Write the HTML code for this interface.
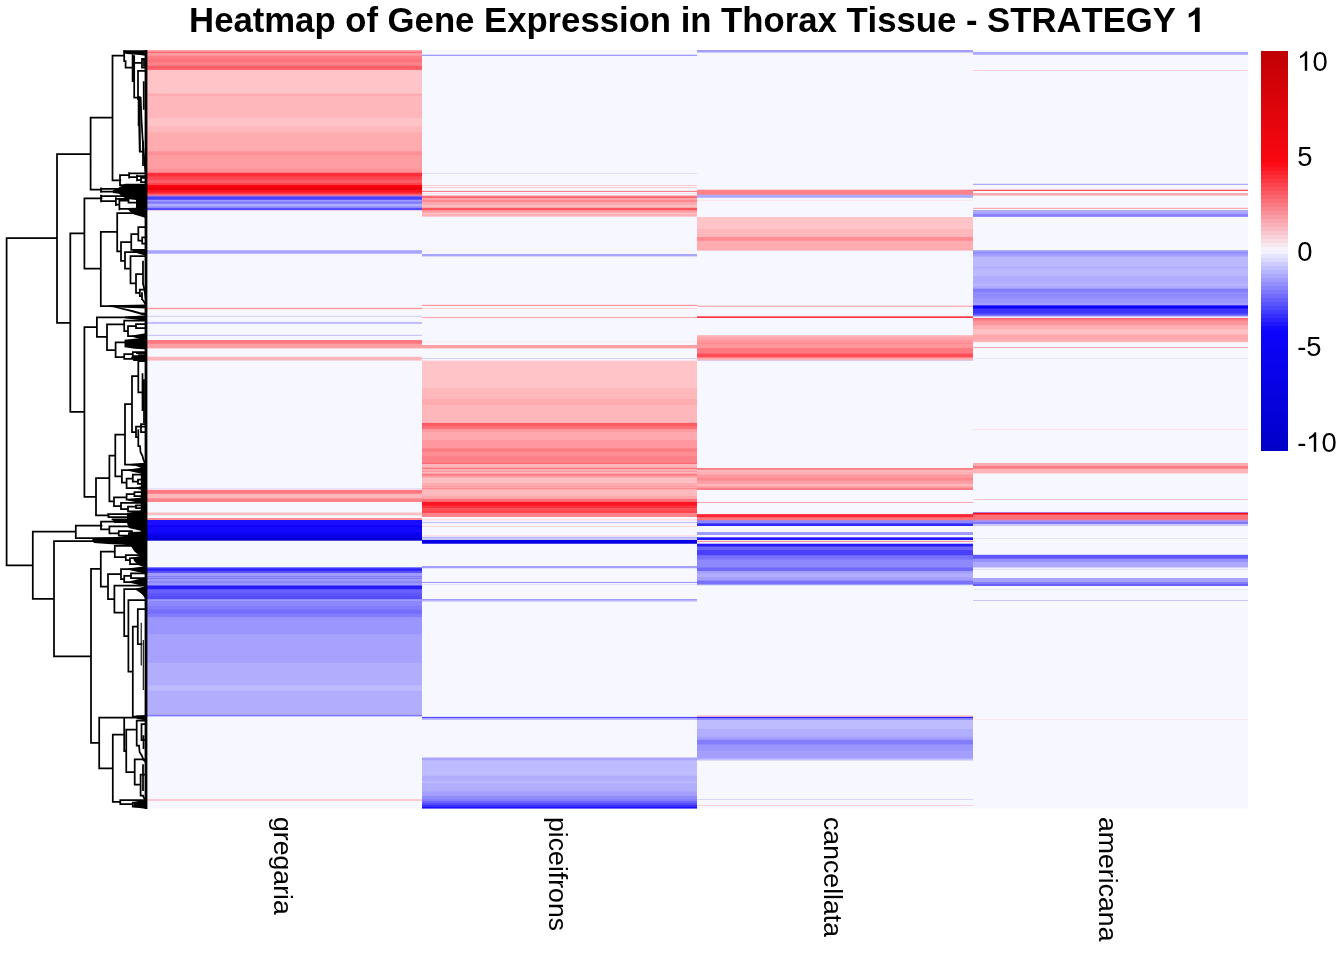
<!DOCTYPE html>
<html><head><meta charset="utf-8"><title>Heatmap</title>
<style>
html,body{margin:0;padding:0;background:#fff;}
body{width:1344px;height:960px;position:relative;overflow:hidden;font-family:"Liberation Sans",sans-serif;color:#000;}
.col{position:absolute;top:50px;height:759px;}
#title{position:absolute;left:189.1px;width:1100px;font-kerning:none;transform-origin:0 32px;transform:scaleY(1.03);top:0px;text-align:left;font-weight:bold;font-size:34.7px;line-height:40px;white-space:nowrap;letter-spacing:0px;}
.lg{position:absolute;left:1297.2px;font-size:27.4px;line-height:30px;white-space:nowrap;}
.xl{position:absolute;font-size:26.67px;line-height:30px;white-space:nowrap;transform-origin:0 0;transform:rotate(90deg);}
#legend{position:absolute;left:1261px;top:51px;width:27px;height:399.5px;}
svg{position:absolute;left:0;top:0;}
#title,.lg,.xl{filter:grayscale(1);font-kerning:none;}
</style></head><body>
<div id="title">Heatmap of Gene Expression in Thorax Tissue - STRATEGY <svg style="position:static;display:inline-block;vertical-align:baseline" preserveAspectRatio="none" width="19.30" height="24.00" viewBox="0 -1480 1139 1480"><path d="M806 0H525V-1059Q371 -915 162 -846V-1101Q272 -1137 401 -1237.5T578 -1472H806Z" fill="#000"/></svg></div>
<div class="col" style="left:147px;width:275px;background:linear-gradient(to bottom,#fe9fa5 0px,#fe9fa5 1px,#fe8f96 1px,#fe8f96 2px,#fd6972 2px,#fd6972 3px,#fe9ba0 3px,#fe9ba0 5px,#fe9298 5px,#fe9298 6px,#fd7d84 6px,#fd7d84 9px,#fd737b 9px,#fd737b 12px,#fe7e85 12px,#fe7e85 13px,#fe8289 13px,#fe8289 15px,#fe787f 15px,#fe787f 16px,#fd5f68 16px,#fd5f68 19px,#fd6972 19px,#fd6972 20px,#fec4c8 20px,#fec4c8 43px,#febcc0 43px,#febcc0 44px,#fea9ae 44px,#fea9ae 45px,#feacb1 45px,#feacb1 46px,#feb6ba 46px,#feb6ba 47px,#feb8bc 47px,#feb8bc 68px,#fec4c8 68px,#fec4c8 76px,#febbbf 76px,#febbbf 77px,#feb8bc 77px,#feb8bc 82px,#feb2b6 82px,#feb2b6 83px,#feacb0 83px,#feacb0 101px,#fe989d 101px,#fe989d 102px,#fe9197 102px,#fe9197 105px,#fe999f 105px,#fe999f 106px,#fe9da2 106px,#fe9da2 118px,#fe9a9f 118px,#fe9a9f 119px,#fe9399 119px,#fe9399 122px,#fe7a81 122px,#fe7a81 123px,#fd2e3a 123px,#fd2e3a 126px,#fd3a46 126px,#fd3a46 127px,#fd4751 127px,#fd4751 130px,#fd5f68 130px,#fd5f68 133px,#fd424c 133px,#fd424c 135px,#fc0210 135px,#fc0210 137px,#f4020e 137px,#f4020e 138px,#ec010b 138px,#ec010b 140px,#fc1623 140px,#fc1623 142px,#fc2733 142px,#fc2733 143px,#fd3843 143px,#fd3843 144px,#fd646d 144px,#fd646d 145px,#d873a2 145px,#d873a2 146px,#7e61ea 146px,#7e61ea 147px,#4940fd 147px,#4940fd 149px,#5e57fd 149px,#5e57fd 150px,#9f9bfe 150px,#9f9bfe 151px,#8e8afe 151px,#8e8afe 152px,#7e78fd 152px,#7e78fd 153px,#8b86fd 153px,#8b86fd 154px,#b2aefe 154px,#b2aefe 155px,#ada9fe 155px,#ada9fe 156px,#9f9bfe 156px,#9f9bfe 157px,#8c87fe 157px,#8c87fe 158px,#544cfd 158px,#544cfd 160px,#e9c8eb 160px,#e9c8eb 161px,#f7f7ff 161px,#f7f7ff 200px,#b9b5fe 200px,#b9b5fe 201px,#a9a4fe 201px,#a9a4fe 203px,#bcb9fe 203px,#bcb9fe 204px,#f7f7ff 204px,#f7f7ff 257px,#f8e4eb 257px,#f8e4eb 258px,#fe969b 258px,#fe969b 259px,#f8e4eb 259px,#f8e4eb 260px,#f7f7ff 260px,#f7f7ff 265px,#efefff 265px,#efefff 266px,#d5d2fe 266px,#d5d2fe 267px,#f7f7ff 267px,#f7f7ff 271px,#f2f1ff 271px,#f2f1ff 272px,#c2bffe 272px,#c2bffe 274px,#f7f7ff 274px,#f7f7ff 284px,#ededff 284px,#ededff 285px,#c7c4fe 285px,#c7c4fe 286px,#f7f7ff 286px,#f7f7ff 290px,#fd7880 290px,#fd7880 293px,#fd8289 293px,#fd8289 294px,#fe9fa5 294px,#fe9fa5 298px,#fad4db 298px,#fad4db 299px,#f7f7ff 299px,#f7f7ff 306px,#f9e4eb 306px,#f9e4eb 307px,#feb8bc 307px,#feb8bc 310px,#fbd1d7 310px,#fbd1d7 311px,#f7f7ff 311px,#f7f7ff 438px,#e3e2ff 438px,#e3e2ff 439px,#f8dee6 439px,#f8dee6 440px,#fd7880 440px,#fd7880 443px,#fd888e 443px,#fd888e 444px,#feb6ba 444px,#feb6ba 448px,#fe979d 448px,#fe979d 449px,#fe8289 449px,#fe8289 452px,#f7f7ff 452px,#f7f7ff 462px,#fadbe1 462px,#fadbe1 463px,#febfc3 463px,#febfc3 465px,#f9e6ed 465px,#f9e6ed 466px,#f7f7ff 466px,#f7f7ff 468px,#fe8c92 468px,#fe8c92 470px,#1a0efc 470px,#1a0efc 475px,#1106f8 475px,#1106f8 476px,#0d02f7 476px,#0d02f7 477px,#1408fb 477px,#1408fb 478px,#1509fc 478px,#1509fc 482px,#1005f8 482px,#1005f8 483px,#0c02f6 483px,#0c02f6 484px,#0b02f3 484px,#0b02f3 485px,#0801e7 485px,#0801e7 488px,#0300d2 488px,#0300d2 490px,#4c4adf 490px,#4c4adf 491px,#f7f7ff 491px,#f7f7ff 517px,#837dfd 517px,#837dfd 518px,#4037fc 518px,#4037fc 519px,#2a20fc 519px,#2a20fc 520px,#362cfc 520px,#362cfc 521px,#5951fd 521px,#5951fd 523px,#9f9bfe 523px,#9f9bfe 526px,#837dfd 526px,#837dfd 527px,#9691fe 527px,#9691fe 528px,#817cfd 528px,#817cfd 529px,#9f9bfe 529px,#9f9bfe 531px,#8f89fe 531px,#8f89fe 533px,#9b96fe 533px,#9b96fe 534px,#9f9bfe 534px,#9f9bfe 535px,#5c54fd 535px,#5c54fd 536px,#251bfc 536px,#251bfc 539px,#5a51fd 539px,#5a51fd 540px,#675ffd 540px,#675ffd 543px,#6058fd 543px,#6058fd 544px,#5e56fd 544px,#5e56fd 545px,#5c54fd 545px,#5c54fd 546px,#544cfd 546px,#544cfd 549px,#908bfe 549px,#908bfe 550px,#9f9bfe 550px,#9f9bfe 551px,#8d87fe 551px,#8d87fe 555px,#8a84fe 555px,#8a84fe 556px,#837dfd 556px,#837dfd 559px,#7c76fd 559px,#7c76fd 560px,#756efd 560px,#756efd 563px,#7670fd 563px,#7670fd 564px,#837dfd 564px,#837dfd 567px,#9691fe 567px,#9691fe 568px,#9a95fe 568px,#9a95fe 569px,#9b96fe 569px,#9b96fe 584px,#a6a2fe 584px,#a6a2fe 612px,#a8a4fe 612px,#a8a4fe 613px,#b2aefe 613px,#b2aefe 635px,#b8b4fe 635px,#b8b4fe 636px,#bebbfe 636px,#bebbfe 640px,#b9b6fe 640px,#b9b6fe 641px,#b2aefe 641px,#b2aefe 664px,#a8a3fe 664px,#a8a3fe 665px,#7e78fd 665px,#7e78fd 666px,#c7c4fe 666px,#c7c4fe 667px,#f7f7ff 667px,#f7f7ff 749px,#fdcacf 749px,#fdcacf 751px,#f7f7ff 751px,#f7f7ff 758px,#fafaff 758px,#fafaff 759px)"></div>
<div class="col" style="left:422px;width:275px;background:linear-gradient(to bottom,#f7f7ff 0px,#f7f7ff 4px,#dddbff 4px,#dddbff 5px,#9f9bfe 5px,#9f9bfe 6px,#f7f7ff 6px,#f7f7ff 123px,#e0deff 123px,#e0deff 124px,#f7f7ff 124px,#f7f7ff 135px,#fdcccf 135px,#fdcccf 136px,#f7f7ff 136px,#f7f7ff 137px,#fdcccf 137px,#fdcccf 138px,#f7f7ff 138px,#f7f7ff 140px,#f8eaf2 140px,#f8eaf2 141px,#fc7e86 141px,#fc7e86 142px,#f7f7ff 142px,#f7f7ff 143px,#fcdce0 143px,#fcdce0 144px,#f7f7ff 144px,#f7f7ff 145px,#fac0c8 145px,#fac0c8 146px,#fe767e 146px,#fe767e 147px,#fd646d 147px,#fd646d 148px,#fea2a7 148px,#fea2a7 150px,#fe8990 150px,#fe8990 152px,#fea9ae 152px,#fea9ae 155px,#febfc3 155px,#febfc3 157px,#fea5aa 157px,#fea5aa 158px,#fd565f 158px,#fd565f 160px,#fe9197 160px,#fe9197 161px,#fe9da2 161px,#fe9da2 162px,#fea9ae 162px,#fea9ae 163px,#fec2c5 163px,#fec2c5 164px,#feb3b8 164px,#feb3b8 165px,#feaeb3 165px,#feaeb3 166px,#fbcbd1 166px,#fbcbd1 167px,#f7f7ff 167px,#f7f7ff 200px,#f9f4fb 200px,#f9f4fb 201px,#f9f3f9 201px,#f9f3f9 202px,#f7f7ff 202px,#f7f7ff 204px,#a9a4fe 204px,#a9a4fe 206px,#d8d6ff 206px,#d8d6ff 207px,#f7f7ff 207px,#f7f7ff 254px,#f8e4eb 254px,#f8e4eb 255px,#fe969b 255px,#fe969b 256px,#f7f7ff 256px,#f7f7ff 258px,#fdd1d5 258px,#fdd1d5 259px,#f7f7ff 259px,#f7f7ff 266px,#f8eff7 266px,#f8eff7 267px,#feacb0 267px,#feacb0 268px,#f8eff7 268px,#f8eff7 269px,#f7f7ff 269px,#f7f7ff 291px,#faeff5 291px,#faeff5 292px,#f9f1f7 292px,#f9f1f7 293px,#f7f7ff 293px,#f7f7ff 295px,#fe9fa5 295px,#fe9fa5 298px,#fad4db 298px,#fad4db 299px,#f7f7ff 299px,#f7f7ff 308px,#d1cefe 308px,#d1cefe 309px,#f7f7ff 309px,#f7f7ff 310px,#fae3e9 310px,#fae3e9 311px,#fec4c8 311px,#fec4c8 338px,#feb8bc 338px,#feb8bc 349px,#feacb0 349px,#feacb0 355px,#feb8bc 355px,#feb8bc 372px,#feafb3 372px,#feafb3 373px,#fd5b64 373px,#fd5b64 376px,#fd6c74 376px,#fd6c74 377px,#fd6e76 377px,#fd6e76 379px,#fe969c 379px,#fe969c 380px,#fe9ba0 380px,#fe9ba0 382px,#fea8ad 382px,#fea8ad 383px,#fea9ae 383px,#fea9ae 389px,#fea7ac 389px,#fea7ac 390px,#fe989e 390px,#fe989e 398px,#fd858c 398px,#fd858c 399px,#fd7d84 399px,#fd7d84 401px,#fd8087 401px,#fd8087 402px,#fe8e94 402px,#fe8e94 405px,#fe8c93 405px,#fe8c93 406px,#fd7f87 406px,#fd7f87 412px,#fd7d85 412px,#fd7d85 413px,#fd6972 413px,#fd6972 414px,#feb6ba 414px,#feb6ba 417px,#fea5aa 417px,#fea5aa 418px,#fd777f 418px,#fd777f 419px,#feaeb3 419px,#feaeb3 421px,#fe999f 421px,#fe999f 422px,#febbbe 422px,#febbbe 423px,#fea0a5 423px,#fea0a5 424px,#fd7880 424px,#fd7880 425px,#fd888f 425px,#fd888f 426px,#fe9fa5 426px,#fe9fa5 427px,#feaaaf 427px,#feaaaf 428px,#fec2c5 428px,#fec2c5 430px,#febabe 430px,#febabe 431px,#fec2c5 431px,#fec2c5 432px,#fec0c3 432px,#fec0c3 433px,#feaeb3 433px,#feaeb3 435px,#feaaaf 435px,#feaaaf 436px,#fe9ba0 436px,#fe9ba0 437px,#feaaaf 437px,#feaaaf 438px,#fe8990 438px,#fe8990 439px,#feaeb3 439px,#feaeb3 440px,#feb8bc 440px,#feb8bc 441px,#febbbe 441px,#febbbe 445px,#feb5b9 445px,#feb5b9 446px,#fea7ac 446px,#fea7ac 448px,#fea2a7 448px,#fea2a7 449px,#fd7179 449px,#fd7179 451px,#fd6870 451px,#fd6870 452px,#fc1623 452px,#fc1623 455px,#fc222e 455px,#fc222e 456px,#fd333e 456px,#fd333e 458px,#fd515a 458px,#fd515a 460px,#fd4f59 460px,#fd4f59 461px,#fd424c 461px,#fd424c 462px,#fd4852 462px,#fd4852 463px,#fe8289 463px,#fe8289 467px,#f7f7ff 467px,#f7f7ff 469px,#ffdfe1 469px,#ffdfe1 470px,#fbebf0 470px,#fbebf0 471px,#f2f1ff 471px,#f2f1ff 472px,#c2bffe 472px,#c2bffe 473px,#f2f1ff 473px,#f2f1ff 474px,#f7f7ff 474px,#f7f7ff 476px,#fcd3d7 476px,#fcd3d7 477px,#f7f7ff 477px,#f7f7ff 485px,#ffdfe1 485px,#ffdfe1 486px,#e4e4ff 486px,#e4e4ff 487px,#b9b6fe 487px,#b9b6fe 488px,#c8c6fe 488px,#c8c6fe 489px,#c7c6fa 489px,#c7c6fa 490px,#0801e7 490px,#0801e7 493px,#443eed 493px,#443eed 494px,#f7f7ff 494px,#f7f7ff 516px,#a49ffe 516px,#a49ffe 518px,#e2e1ff 518px,#e2e1ff 519px,#f7f7ff 519px,#f7f7ff 531px,#ededff 531px,#ededff 532px,#a09bfe 532px,#a09bfe 533px,#f4f3ff 533px,#f4f3ff 534px,#e3e1fe 534px,#e3e1fe 535px,#f7f7ff 535px,#f7f7ff 549px,#9f9bfe 549px,#9f9bfe 550px,#b8b5fe 550px,#b8b5fe 551px,#d7d5fe 551px,#d7d5fe 552px,#f7f7ff 552px,#f7f7ff 666px,#e6e5ff 666px,#e6e5ff 667px,#5047fd 667px,#5047fd 668px,#ada9fe 668px,#ada9fe 669px,#bcb9fe 669px,#bcb9fe 670px,#f7f7ff 670px,#f7f7ff 707px,#d0cefe 707px,#d0cefe 708px,#a9a4fe 708px,#a9a4fe 710px,#bab6fe 710px,#bab6fe 711px,#bebbfe 711px,#bebbfe 725px,#bcb8fe 725px,#bcb8fe 726px,#b2aefe 726px,#b2aefe 731px,#bbb8fe 731px,#bbb8fe 732px,#bebbfe 732px,#bebbfe 733px,#b2aefe 733px,#b2aefe 741px,#aaa5fe 741px,#aaa5fe 742px,#a49ffe 742px,#a49ffe 746px,#918cfe 746px,#918cfe 749px,#8680fd 749px,#8680fd 750px,#837dfd 750px,#837dfd 751px,#6c64fd 751px,#6c64fd 753px,#544cfd 753px,#544cfd 755px,#382efd 755px,#382efd 757px,#1a0efc 757px,#1a0efc 758px,#766efd 758px,#766efd 759px)"></div>
<div class="col" style="left:697px;width:275.5px;background:linear-gradient(to bottom,#a49ffe 0px,#a49ffe 2px,#cecbfe 2px,#cecbfe 3px,#f7f7ff 3px,#f7f7ff 139px,#f9d4dc 139px,#f9d4dc 140px,#fe8289 140px,#fe8289 144px,#e68eac 144px,#e68eac 145px,#ada9fe 145px,#ada9fe 147px,#bcb9fe 147px,#bcb9fe 148px,#f7f7ff 148px,#f7f7ff 150px,#fde4e7 150px,#fde4e7 151px,#f7f7ff 151px,#f7f7ff 167px,#fec4c8 167px,#fec4c8 179px,#feb8bc 179px,#feb8bc 186px,#feb4b8 186px,#feb4b8 187px,#fe8c92 187px,#fe8c92 190px,#fe9298 190px,#fe9298 191px,#feacb0 191px,#feacb0 200px,#fbcad0 200px,#fbcad0 201px,#f7f7ff 201px,#f7f7ff 255px,#fad9df 255px,#fad9df 256px,#fdb4b8 256px,#fdb4b8 257px,#f7f7ff 257px,#f7f7ff 266px,#fa737d 266px,#fa737d 267px,#fb313d 267px,#fb313d 268px,#f7f7ff 268px,#f7f7ff 285px,#fdbfc4 285px,#fdbfc4 286px,#feb1b5 286px,#feb1b5 287px,#feacb1 287px,#feacb1 288px,#fea2a7 288px,#fea2a7 290px,#fe9a9f 290px,#fe9a9f 291px,#fe969b 291px,#fe969b 293px,#fe8990 293px,#fe8990 294px,#fe969b 294px,#fe969b 298px,#fd7b83 298px,#fd7b83 299px,#fd7880 299px,#fd7880 303px,#fd666f 303px,#fd666f 304px,#fd4c56 304px,#fd4c56 307px,#fe7c83 307px,#fe7c83 308px,#feacb0 308px,#feacb0 309px,#f8b2bc 309px,#f8b2bc 310px,#e1c8eb 310px,#e1c8eb 311px,#f7f7ff 311px,#f7f7ff 418px,#fd7d84 418px,#fd7d84 419px,#fd898f 419px,#fd898f 420px,#feb8bc 420px,#feb8bc 422px,#feacb1 422px,#feacb1 423px,#feb8bc 423px,#feb8bc 424px,#fea1a6 424px,#fea1a6 425px,#fe9ba0 425px,#fe9ba0 427px,#fe969b 427px,#fe969b 428px,#fe8990 428px,#fe8990 430px,#fe9298 430px,#fe9298 431px,#fe9fa5 431px,#fe9fa5 434px,#feb8bb 434px,#feb8bb 435px,#febbbe 435px,#febbbe 436px,#fea5a9 436px,#fea5a9 437px,#fe969b 437px,#fe969b 438px,#fd7e85 438px,#fd7e85 439px,#fc7c84 439px,#fc7c84 440px,#f7f7ff 440px,#f7f7ff 451px,#f8eff7 451px,#f8eff7 452px,#fea7ac 452px,#fea7ac 453px,#f7f7ff 453px,#f7f7ff 464px,#fb3c47 464px,#fb3c47 465px,#fc2733 465px,#fc2733 467px,#fd666e 467px,#fd666e 468px,#fd767d 468px,#fd767d 470px,#a384e4 470px,#a384e4 471px,#8d87fe 471px,#8d87fe 473px,#564dfd 473px,#564dfd 474px,#3127fc 474px,#3127fc 476px,#f7f7ff 476px,#f7f7ff 482px,#9f9bfe 482px,#9f9bfe 485px,#f7f7ff 485px,#f7f7ff 487px,#6159fd 487px,#6159fd 488px,#2116fc 488px,#2116fc 490px,#f8e4eb 490px,#f8e4eb 491px,#fe969b 491px,#fe969b 492px,#f7f7ff 492px,#f7f7ff 493px,#b8b5fe 493px,#b8b5fe 494px,#251bfc 494px,#251bfc 496px,#4840fc 496px,#4840fc 497px,#6c64fd 497px,#6c64fd 500px,#4940fd 500px,#4940fd 505px,#6c65fd 505px,#6c65fd 506px,#7771fd 506px,#7771fd 509px,#817bfd 509px,#817bfd 510px,#8f89fe 510px,#8f89fe 517px,#8079fe 517px,#8079fe 518px,#7069fd 518px,#7069fd 521px,#a49ffe 521px,#a49ffe 523px,#aaa5fe 523px,#aaa5fe 524px,#b2aefe 524px,#b2aefe 527px,#a5a1fe 527px,#a5a1fe 528px,#a49ffe 528px,#a49ffe 530px,#928dfe 530px,#928dfe 531px,#7771fd 531px,#7771fd 534px,#a09cfe 534px,#a09cfe 535px,#e5e4ff 535px,#e5e4ff 536px,#f7f7ff 536px,#f7f7ff 665px,#fcd2d6 665px,#fcd2d6 666px,#e8b1cb 666px,#e8b1cb 667px,#251bfc 667px,#251bfc 668px,#8681fe 668px,#8681fe 669px,#918cfe 669px,#918cfe 670px,#bebbfe 670px,#bebbfe 679px,#b2aefe 679px,#b2aefe 686px,#aeaafe 686px,#aeaafe 687px,#a49ffe 687px,#a49ffe 689px,#9d98fe 689px,#9d98fe 690px,#837dfd 690px,#837dfd 694px,#8f8afe 694px,#8f8afe 695px,#9b96fe 695px,#9b96fe 700px,#9d98fe 700px,#9d98fe 701px,#a49ffe 701px,#a49ffe 708px,#b0acfe 708px,#b0acfe 709px,#c2bffe 709px,#c2bffe 710px,#dcdbfe 710px,#dcdbfe 711px,#f7f7ff 711px,#f7f7ff 749px,#d9d6fe 749px,#d9d6fe 750px,#f7f7ff 750px,#f7f7ff 755px,#fdd1d5 755px,#fdd1d5 756px,#f7f7ff 756px,#f7f7ff 758px,#fafaff 758px,#fafaff 759px)"></div>
<div class="col" style="left:972.5px;width:275.5px;background:linear-gradient(to bottom,#f7f7ff 0px,#f7f7ff 2px,#ada9fe 2px,#ada9fe 4px,#bcb9fe 4px,#bcb9fe 5px,#f7f7ff 5px,#f7f7ff 20px,#fdcdd1 20px,#fdcdd1 21px,#f7f7ff 21px,#f7f7ff 133px,#e4e4ff 133px,#e4e4ff 134px,#ada9fe 134px,#ada9fe 135px,#f7f7ff 135px,#f7f7ff 139px,#f9c5cd 139px,#f9c5cd 140px,#fd515a 140px,#fd515a 141px,#f7f7ff 141px,#f7f7ff 143px,#feacb0 143px,#feacb0 145px,#fbcad0 145px,#fbcad0 146px,#f7f7ff 146px,#f7f7ff 157px,#f8e8ef 157px,#f8e8ef 158px,#feacb0 158px,#feacb0 159px,#f7f7ff 159px,#f7f7ff 160px,#ada9fe 160px,#ada9fe 163px,#a49ffe 163px,#a49ffe 164px,#8882fe 164px,#8882fe 166px,#938efe 166px,#938efe 167px,#f7f7ff 167px,#f7f7ff 200px,#b1adfe 200px,#b1adfe 201px,#9f9bfe 201px,#9f9bfe 202px,#928cfe 202px,#928cfe 203px,#9791fe 203px,#9791fe 204px,#a19cfe 204px,#a19cfe 205px,#a49ffe 205px,#a49ffe 206px,#b2aefe 206px,#b2aefe 207px,#bbb8fe 207px,#bbb8fe 216px,#b9b6fe 216px,#b9b6fe 217px,#b2aefe 217px,#b2aefe 218px,#b7b4fe 218px,#b7b4fe 219px,#bbb8fe 219px,#bbb8fe 226px,#b2aefe 226px,#b2aefe 227px,#b0acfe 227px,#b0acfe 233px,#b4b1fe 233px,#b4b1fe 234px,#b9b6fe 234px,#b9b6fe 236px,#ada9fe 236px,#ada9fe 238px,#a09cfe 238px,#a09cfe 239px,#837dfd 239px,#837dfd 241px,#8680fd 241px,#8680fd 242px,#918cfe 242px,#918cfe 248px,#9b96fe 248px,#9b96fe 252px,#9d98fe 252px,#9d98fe 253px,#a49ffe 253px,#a49ffe 255px,#4941fb 255px,#4941fb 256px,#0d02f9 256px,#0d02f9 258px,#251afb 258px,#251afb 259px,#3d33fd 259px,#3d33fd 263px,#4f47fd 263px,#4f47fd 264px,#5b53fd 264px,#5b53fd 265px,#7771fd 265px,#7771fd 266px,#cbc8fe 266px,#cbc8fe 267px,#f0e1f1 267px,#f0e1f1 268px,#fd6972 268px,#fd6972 269px,#fe767e 269px,#fe767e 270px,#fe8289 270px,#fe8289 271px,#fe969b 271px,#fe969b 275px,#fea9ae 275px,#fea9ae 276px,#feaeb3 276px,#feaeb3 279px,#febcc0 279px,#febcc0 280px,#fec2c5 280px,#fec2c5 284px,#feb4b8 284px,#feb4b8 285px,#fea7ac 285px,#fea7ac 289px,#fea9ae 289px,#fea9ae 290px,#feaeb3 290px,#feaeb3 291px,#feb7bb 291px,#feb7bb 292px,#fce6eb 292px,#fce6eb 293px,#f7f7ff 293px,#f7f7ff 297px,#feacb0 297px,#feacb0 298px,#f8eff7 298px,#f8eff7 299px,#f7f7ff 299px,#f7f7ff 308px,#e8e7ff 308px,#e8e7ff 309px,#f7f7ff 309px,#f7f7ff 379px,#fde3e7 379px,#fde3e7 380px,#f7f7ff 380px,#f7f7ff 413px,#feacb0 413px,#feacb0 416px,#fd7880 416px,#fd7880 418px,#fd888e 418px,#fd888e 419px,#feb6ba 419px,#feb6ba 423px,#fadde3 423px,#fadde3 424px,#f7f7ff 424px,#f7f7ff 449px,#fdc3c8 449px,#fdc3c8 450px,#f7f7ff 450px,#f7f7ff 462px,#ae7bd1 462px,#ae7bd1 463px,#fc0e1c 463px,#fc0e1c 464px,#fc404a 464px,#fc404a 465px,#fd7179 465px,#fd7179 469px,#f0768d 469px,#f0768d 470px,#be8cdc 470px,#be8cdc 471px,#9f95fb 471px,#9f95fb 472px,#7d76fd 472px,#7d76fd 473px,#8680fd 473px,#8680fd 474px,#c9c7fe 474px,#c9c7fe 476px,#f7f7ff 476px,#f7f7ff 488px,#e3e1fe 488px,#e3e1fe 489px,#f7f7ff 489px,#f7f7ff 504px,#d8d7ff 504px,#d8d7ff 505px,#5e56fd 505px,#5e56fd 508px,#6c65fd 508px,#6c65fd 509px,#9691fe 509px,#9691fe 512px,#ada9fe 512px,#ada9fe 517px,#d2d0fe 517px,#d2d0fe 518px,#f2f1ff 518px,#f2f1ff 519px,#e4e3ff 519px,#e4e3ff 520px,#f7f7ff 520px,#f7f7ff 528px,#a6a2fe 528px,#a6a2fe 532px,#837dfd 532px,#837dfd 534px,#655efd 534px,#655efd 535px,#6d66fd 535px,#6d66fd 536px,#f7f7ff 536px,#f7f7ff 539px,#e9e8ff 539px,#e9e8ff 540px,#f7f7ff 540px,#f7f7ff 550px,#c9c7fe 550px,#c9c7fe 551px,#f7f7ff 551px,#f7f7ff 669px,#fce9ed 669px,#fce9ed 670px,#f7f7ff 670px,#f7f7ff 758px,#fafaff 758px,#fafaff 759px)"></div>
<div id="legend" style="background:linear-gradient(to bottom,#c00003 0.00px,#fb0812 112.50px,#fc0d17 112.50px,#fc0d17 116.45px,#fc1822 116.45px,#fc1822 120.41px,#fb232d 120.41px,#fb232d 124.36px,#fb2e38 124.36px,#fb2e38 128.32px,#fb3942 128.32px,#fb3942 132.27px,#fb444d 132.27px,#fb444d 136.23px,#fb4f58 136.23px,#fb4f58 140.18px,#fa5963 140.18px,#fa5963 144.14px,#fa646e 144.14px,#fa646e 148.09px,#fa6f78 148.09px,#fa6f78 152.05px,#fa7a83 152.05px,#fa7a83 156.00px,#f9858e 156.00px,#f9858e 159.95px,#f99099 159.95px,#f99099 163.91px,#f99ba3 163.91px,#f99ba3 167.86px,#f9a6ae 167.86px,#f9a6ae 171.82px,#f8b0b9 171.82px,#f8b0b9 175.77px,#f8bbc4 175.77px,#f8bbc4 179.73px,#f8c6cf 179.73px,#f8c6cf 183.68px,#f8d1d9 183.68px,#f8d1d9 187.64px,#f8dce4 187.64px,#f8dce4 191.59px,#f7e7ef 191.59px,#f7e7ef 195.55px,#f7f2fa 195.55px,#f7f2fa 199.50px,#f1f1ff 199.50px,#f1f1ff 203.48px,#e5e5ff 203.48px,#e5e5ff 207.45px,#dad9ff 207.45px,#dad9ff 211.43px,#ceccfe 211.43px,#ceccfe 215.40px,#c2c0fe 215.40px,#c2c0fe 219.38px,#b6b4fe 219.38px,#b6b4fe 223.35px,#aba8fe 223.35px,#aba8fe 227.33px,#9f9cfe 227.33px,#9f9cfe 231.30px,#9390fe 231.30px,#9390fe 235.28px,#8784fe 235.28px,#8784fe 239.25px,#7c77fd 239.25px,#7c77fd 243.23px,#706bfd 243.23px,#706bfd 247.20px,#645ffd 247.20px,#645ffd 251.18px,#5853fd 251.18px,#5853fd 255.15px,#4d47fd 255.15px,#4d47fd 259.13px,#413bfd 259.13px,#413bfd 263.10px,#352ffd 263.10px,#352ffd 267.08px,#2922fc 267.08px,#2922fc 271.05px,#1e16fc 271.05px,#1e16fc 275.03px,#120afc 275.03px,#120afc 279.00px,#0c04fc 279.00px,#0000c8 399.50px)"></div>
<div class="lg" style="top:46.7px"><svg style="position:static;display:inline-block;vertical-align:baseline" preserveAspectRatio="none" width="15.24" height="19.80" viewBox="0 -1480 1139 1480"><path d="M763 0H583V-1147Q518 -1085 412.5 -1023T223 -930V-1104Q373 -1174.5 485.5 -1275T645 -1470H763Z" fill="#000"/></svg>0</div>
<div class="lg" style="top:141.6px">5</div>
<div class="lg" style="top:237.3px">0</div>
<div class="lg" style="top:332.3px">-5</div>
<div class="lg" style="top:427.8px">-<svg style="position:static;display:inline-block;vertical-align:baseline" preserveAspectRatio="none" width="15.24" height="19.80" viewBox="0 -1480 1139 1480"><path d="M763 0H583V-1147Q518 -1085 412.5 -1023T223 -930V-1104Q373 -1174.5 485.5 -1275T645 -1470H763Z" fill="#000"/></svg>0</div>
<div class="xl" style="left:298px;top:817px">gregaria</div>
<div class="xl" style="left:573.1px;top:817px">piceifrons</div>
<div class="xl" style="left:848.1px;top:817px">cancellata</div>
<div class="xl" style="left:1123.1px;top:817px">americana</div>
<svg width="1344" height="960" viewBox="0 0 1344 960">
<path d="M6.6 238L6.6 565.3M6.6 238L57 238M6.6 565.3L32.8 565.3M57 154L57 322.8M57 154L90.6 154M57 322.8L70.3 322.8M90.6 117.7L90.6 189.7M90.6 117.7L112.5 117.7M90.6 189.7L100.8 189.7M112.5 55.6L112.5 180.4M112.5 55.6L124.2 55.6M112.5 180.4L120.3 180.4M124.2 51L124.2 61M125.6 61L125.6 67.5M125.6 67.5L132.6 67.5M132.6 55L132.6 81M134.2 56L134.2 97.5M134.2 62.9L142 62.9M142 58.75L142 67.5M142 58.75L146 58.75M142 67.5L146 67.5M144 60.5L144 65.5M134.2 97.5L138.6 97.5M138 70.8L138 99M138.6 97L138.6 125M138 70.8L146 70.8M143.75 82L143.75 108.75M139.8 97L139.8 151.7M139.8 151.7L143 151.7M143 141.5L143 165M120 175L120 185.3M120 175L129.1 175M129.1 173.1L129.1 177.5M129.1 173.4L146 173.4M129.1 177.2L137 177.2M137 175.6L137 180.3M137 176L146 176M137 180L141 180M141 177.5L141 182.2M141 177.8L146 177.8M141 182.2L146 182.2M120 185L126 185M101 188.4L101 191.9M101 188.75L126 188.75M101 191.6L114 191.6M70.3 233.4L70.3 411.9M70.3 233.4L84.4 233.4M70.3 411.9L84.4 411.9M84.4 198.3L84.4 268.6M84.4 198.3L101.6 198.3M84.4 268.6L100.8 268.6M101 195.6L101 201.25M101 196L125 196M101 201L115.9 201M115.9 198.1L115.9 205M115.9 198.75L127 198.75M115.9 204.7L119.4 204.7M119.4 200.3L119.4 209.4M119.4 200.6L128.5 200.6M128.5 198.75L128.5 202.5M128.5 202.5L136 202.5M119.4 208.75L128 208.75M100.8 231.9L100.8 306M100.8 231.9L117.2 231.9M100.8 306L146 306M117.2 213L117.2 251.4M117.2 213L133 213M117.2 251.4L121 251.4M121 242L121 260.8M121 242L131.25 242M131.25 234.2L131.25 249.8M131.25 234.2L138.3 234.2M138.3 227.2L138.3 240.5M138.3 227.2L144.5 227.2M138.3 240.5L142.2 240.5M142.2 237.3L142.2 243.6M142.2 237.3L146 237.3M142.2 243.6L146 243.6M131.25 249.8L146 249.8M134 250.8L146 250.8M121 260.8L125 260.8M125 252.2L125 268.6M125 252.2L146 252.2M125 268.6L130.5 268.6M130.5 256L130.5 283.4M130.5 256L145.3 256M130.5 283.4L136 283.4M136 274L136 292.8M136 274L143 274M143 261.5L143 283.4M136 292.8L139.8 292.8M139.8 289.7L139.8 296M139.8 289.7L144 289.7M139.8 296L142 296M142 293L142 299M84.4 327.2L84.4 496.9M84.4 327.2L96.9 327.2M84.4 496.9L96 496.9M96.9 317.3L96.9 336.9M96.9 317.3L146 317.3M96.9 336.9L107 336.9M107 324.4L107 350.2M107 324.4L124.2 324.4M124.2 320.5L124.2 331M124.2 320.5L146 320.5M124.2 331L128 331M128 326L128 336M128 326L136 326M136 324L136 328M136 324L146 324M136 328L146 328M128 336L146 336M107 350.2L115.6 350.2M115.6 342.3L115.6 357.2M115.6 342.3L125 342.3M115.6 357.2L124.2 357.2M124.2 354L124.2 358.75M124.2 354L132.8 354M132.8 352L132.8 356M132.8 352L146 352M132.8 356L146 356M124.2 358.75L146 358.75M137 353L146 353M139 355L146 355M132 357.6L146 357.6M134 360L146 360M138.3 361L138.3 392.3M138.3 361L146 361M138.3 392.3L142.2 392.3M142.5 374L142.5 410M144 380L144 422M132 376L138.3 376M132 376L132 432.2M125 404L132 404M125 404L125 464.5M115.3 434.5L125 434.5M125 464.5L146 464.5M132 432.2L136 432.2M136 426.7L136 437.2M136 426.7L145 426.7M136 437.2L138.3 437.2M138.3 430L138.3 446M141 424L141 432M141 424L146 424M141 432L146 432M115.3 434.5L115.3 476.25M115.3 476.25L121.9 476.25M121.9 470L121.9 482.5M121.9 470L146 470M121.9 482.5L126.6 482.5M126.6 478.6L126.6 488M126.6 478.6L132.8 478.6M132.8 474.7L132.8 481.7M132.8 474.7L146 474.7M132.8 481.7L138 481.7M138 479.6L138 483.8M138 479.6L146 479.6M138 483.8L146 483.8M126.6 488L146 488M109.4 455.6L109.4 501.25M109.4 455.6L115.3 455.6M109.4 501.25L114 501.25M114 497.3L114 506M114 497.3L126.6 497.3M126.6 494.2L126.6 499.7M126.6 494.2L134.4 494.2M134.4 492L134.4 496M134.4 492L146 492M134.4 496L146 496M126.6 499.7L146 499.7M114 506L121 506M121 502.8L121 509M121 502.8L146 502.8M121 509L128 509M128 506.7L128 511.4M128 506.7L136 506.7M136 505.4L136 508M136 505.4L146 505.4M136 508L146 508M128 511.4L146 511.4M96 478L96 515.3M96 478L109.4 478M96 515.3L108.6 515.3M108.1 514.2L128 514.2M112.5 517.2L128 517.2M112.5 519.4L128 519.4M114 521.2L128 521.2M115 522.2L128 522.2M32.8 531.7L32.8 598.75M32.8 531.7L75.8 531.7M32.8 598.75L54 598.75M75.8 525.5L75.8 538.2M75.8 525.5L101.6 525.5M75.8 538.2L93 538.2M101 521.6L101 529.4M101 521.6L128 521.6M101.6 529.4L109.4 529.4M109.4 526.25L109.4 533.3M109.4 526.25L130 526.25M109.4 533.3L118.75 533.3M118.75 531L118.75 535.6M118.75 531L132 531M118.75 535.6L133 535.6M54 541.2L54 656.25M54 541.2L93 541.2M54 656.25L91 656.25M91 568.75L91 742.8M91 568.75L100.8 568.75M91 742.8L99.2 742.8M100.8 551.5L100.8 586.7M100.8 551.5L114.8 551.5M114.8 545.8L114.8 557M114.8 545.8L146 545.8M114.8 557L125.8 557M125.8 555.2L125.8 560M125.8 555.2L146 555.2M125.8 560L130 560M130 558L130 564M130 558L146 558M130 564L146 564M100.8 586.7L108 586.7M108 574.2L108 599.2M108 574.2L121 574.2M121 569L121 579M121 569L146 569M121 579L124.2 579M124.2 575.8L124.2 582M124.2 575.8L131 575.8M131 573.4L131 578M131 573.4L146 573.4M131 578L146 578M124.2 582L146 582M108 599.2L114.4 599.2M114.4 585.6L114.4 612.5M114.4 585.6L146 585.6M114.4 612.5L124.2 612.5M124.2 589L124.2 636M124.2 589L137.5 589M124.2 636L128.4 636M128.4 600L128.4 671.6M128.4 600L146 600M128.4 671.6L132.8 671.6M132.8 626.6L132.8 716.7M132.8 626.6L137.8 626.6M137.8 609L137.8 644.2M137.8 609L144.5 609M137.8 644.2L141.4 644.2M132.8 716.7L146 716.7M99.2 717.5L99.2 768.3M99.2 717.5L146 717.5M99.2 768.3L112.8 768.3M134 716.5L146 716.5M112.8 734.7L112.8 801.9M112.8 734.7L124.2 734.7M124.2 718.3L124.2 751M124.2 751L126.25 751M126.25 729.7L126.25 772.2M126.25 729.7L136.7 729.7M136.7 720.6L136.7 745.6M136.7 720.6L146 720.6M136.7 745.6L139 745.6M141.5 724L141.5 740M141.5 724L146 724M141.5 740L146 740M143.5 736L143.5 748M126.25 772.2L134.7 772.2M134.7 759.4L134.7 784.7M134.7 759.4L146 759.4M134.7 784.7L140.6 784.7M140.6 774.5L140.6 795.6M140.6 774.5L145 774.5M140.6 795.6L143 795.6M143 765L143 790M112.8 801.9L120.3 801.9M120.3 800L120.3 804.2M120.3 800L146 800M120.3 804.2L132.8 804.2M132.8 802.7L132.8 806.5M132.8 802.7L146 802.7M132.8 806.5L146 806.5M108.4 514.2L108.4 517.2M108.4 517.2L128 517.2" fill="none" stroke="#000" stroke-width="1.75" stroke-linecap="square"/>
<path d="M141.2 622.7L141.2 665.6M143.3 640L143.3 690" fill="none" stroke="#000" stroke-width="1.1"/>
<polygon points="123.4,50.2 147,50.2 147,56 140,55 127,53.9 123.4,53.3" fill="#000"/>
<polygon points="112.9,190.2 119,187.5 125.4,183.75 147,183.75 147,200 136,200 127,199 122,196.6 119,193.8 112.9,193" fill="#000"/>
<polygon points="136,196 147,196 147,218.5 141,216.5 136,215" fill="#000"/>
<polygon points="126.6,208 136,207.8 136,215 134,214.6 130.5,212" fill="#000"/>
<polygon points="109,305.2 147,304.6 147,308.6 125,307.8 109,306.9" fill="#000"/>
<polygon points="112,306.8 118,307 132,310 141,312.4 147,312.8 147,315.6 142,315 130,311.6 120,309" fill="#000"/>
<polygon points="132,251.6 147,249 147,256 138,253.6" fill="#000"/>
<polygon points="125,316.5 147,315.2 147,320.8 135,319.6 125,318.2" fill="#000"/>
<polygon points="132,335.4 147,333 147,341 132,336.8" fill="#000"/>
<polygon points="124.5,339.8 147,337.5 147,349.6 135,348.8 124.5,347.2" fill="#000"/>
<polygon points="130,464 147,462.5 147,470 136,466 130,465.2" fill="#000"/>
<polygon points="128,469.5 147,467 147,475 128,470.8" fill="#000"/>
<polygon points="136,487.4 147,485 147,491 136,488.8" fill="#000"/>
<polygon points="128,499 147,497 147,504.5 128,500.6" fill="#000"/>
<polygon points="127,513 147,509.5 147,546.2 132,545.2 108,543.9 94,543 92,540 94,537.2 118,537 128,535.6 128,532.5 130,532 144,531.6 131,528.6 128.75,528 127,523" fill="#000"/>
<polygon points="130.5,545.5 147,545.5 147,556.5 138,554.5 134.5,551.5" fill="#000"/>
<polygon points="133,557.5 147,554.5 147,568 138,565 134,561" fill="#000"/>
<polygon points="128,568.4 147,566 147,574 128,569.8" fill="#000"/>
<polygon points="130,581.2 147,577 147,587 130,582.8" fill="#000"/>
<polygon points="136,588.4 147,586 147,598 142,594 136,590" fill="#000"/>
<polygon points="135.5,715.6 147,715 147,720.6 137,719" fill="#000"/>
<polygon points="134,802 147,799 147,809 134,807.2" fill="#000"/>
<polygon points="144.6,50.2 147.4,50.2 147.4,809 144.6,809" fill="#000"/>
<polygon points="140.8,464 147,464 147,546 140.8,546" fill="#000"/>
<polyline points="140.6,97 141.5,120 143,145 145.5,172" fill="none" stroke="#000" stroke-width="1.75"/>
<polyline points="138.3,124.4 139.2,124.4 139.8,151.7" fill="none" stroke="#000" stroke-width="1.75"/>
<polyline points="142,299 143.5,301 146,305" fill="none" stroke="#000" stroke-width="1.75"/>
<polyline points="143,283.4 144.5,290 146,300" fill="none" stroke="#000" stroke-width="1.75"/>
<polyline points="138.3,446 140,446 140.5,452 142.5,456 143.5,460 145.5,464" fill="none" stroke="#000" stroke-width="1.75"/>
<polyline points="137.5,589 140,591 143,594 146,598" fill="none" stroke="#000" stroke-width="1.75"/>
<polyline points="139,745.6 139.6,752 142,756 143.5,760 146,762" fill="none" stroke="#000" stroke-width="1.75"/>
<polyline points="143,795.6 144,798 146,800" fill="none" stroke="#000" stroke-width="1.75"/>
</svg>
</body></html>
